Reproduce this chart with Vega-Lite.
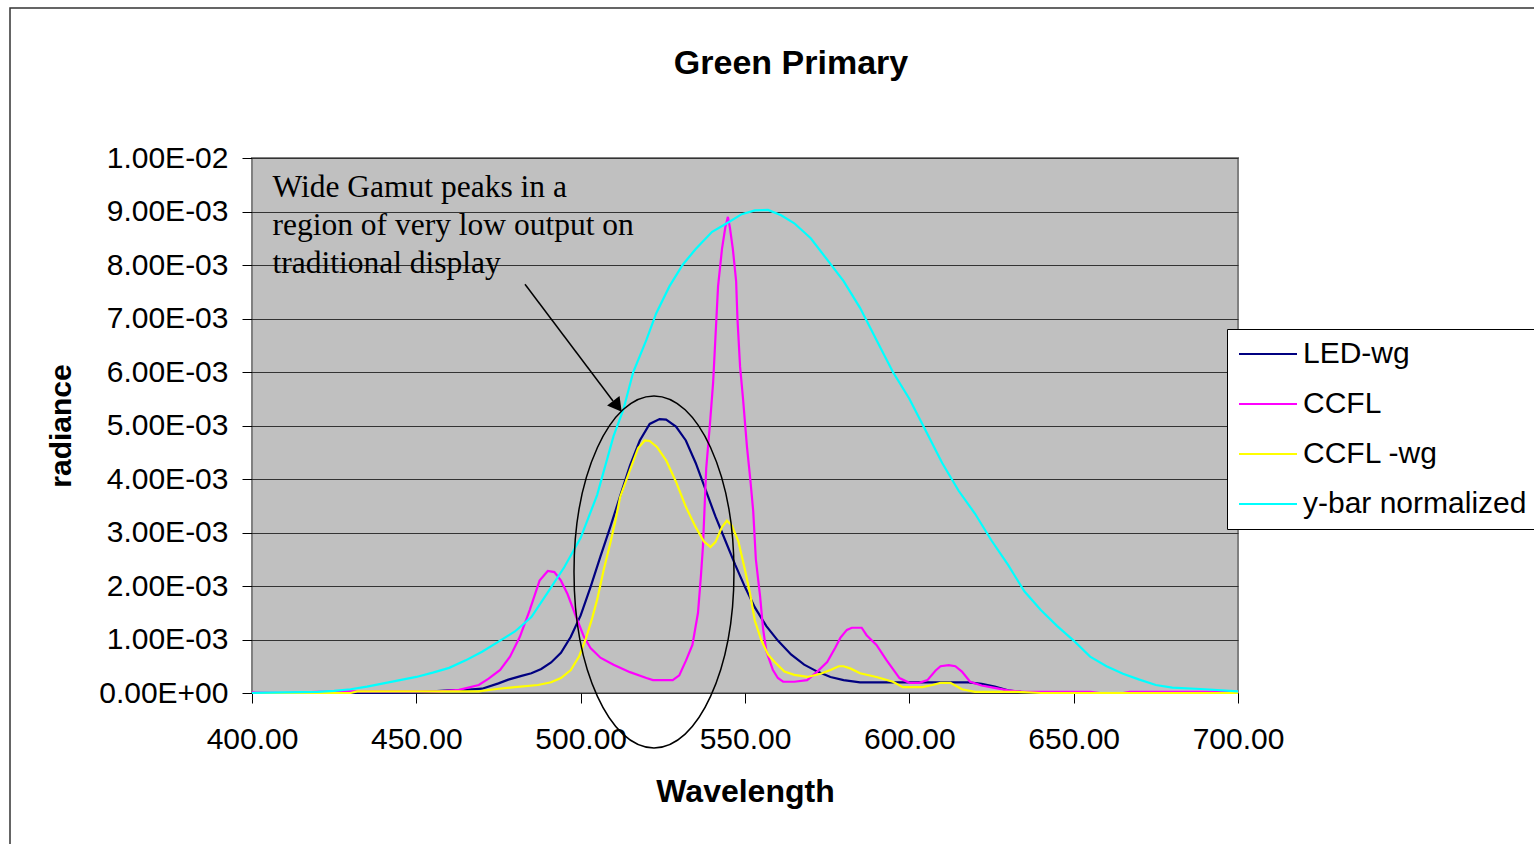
{
  "$schema": "https://vega.github.io/schema/vega-lite/v6.json",
  "width": 986,
  "height": 535,
  "autosize": {"type": "none"},
  "padding": {"left": 252, "top": 158, "right": 296, "bottom": 151},
  "background": "white",
  "title": {"text": "Green Primary", "font": "Liberation Sans", "fontSize": 34, "fontWeight": "bold", "color": "black", "anchor": "middle", "frame": "group", "dx": 46, "baseline": "alphabetic", "offset": -101},
  "config": {
    "view": {"fill": "#C0C0C0", "stroke": "#808080", "strokeWidth": 2},
    "axis": {"labelFont": "Liberation Sans", "titleFont": "Liberation Sans", "labelColor": "black", "titleColor": "black", "tickColor": "black", "domain": false}
  },
  "data": {"values": [
    {"series": "LED-wg", "wavelength": 400, "radiance": 0},
    {"series": "LED-wg", "wavelength": 420, "radiance": 0},
    {"series": "LED-wg", "wavelength": 440, "radiance": 0},
    {"series": "LED-wg", "wavelength": 450, "radiance": 0.00001},
    {"series": "LED-wg", "wavelength": 460, "radiance": 0.00005},
    {"series": "LED-wg", "wavelength": 465, "radiance": 0.00006},
    {"series": "LED-wg", "wavelength": 470, "radiance": 0.00008},
    {"series": "LED-wg", "wavelength": 475, "radiance": 0.00018},
    {"series": "LED-wg", "wavelength": 478, "radiance": 0.00025},
    {"series": "LED-wg", "wavelength": 482, "radiance": 0.00032},
    {"series": "LED-wg", "wavelength": 485, "radiance": 0.00037},
    {"series": "LED-wg", "wavelength": 488, "radiance": 0.00045},
    {"series": "LED-wg", "wavelength": 491, "radiance": 0.00057},
    {"series": "LED-wg", "wavelength": 494, "radiance": 0.00075},
    {"series": "LED-wg", "wavelength": 497, "radiance": 0.00105},
    {"series": "LED-wg", "wavelength": 500, "radiance": 0.00145},
    {"series": "LED-wg", "wavelength": 503, "radiance": 0.00198},
    {"series": "LED-wg", "wavelength": 506, "radiance": 0.00255},
    {"series": "LED-wg", "wavelength": 509, "radiance": 0.0031},
    {"series": "LED-wg", "wavelength": 512, "radiance": 0.00368},
    {"series": "LED-wg", "wavelength": 515, "radiance": 0.00425},
    {"series": "LED-wg", "wavelength": 518, "radiance": 0.00472},
    {"series": "LED-wg", "wavelength": 521, "radiance": 0.00503},
    {"series": "LED-wg", "wavelength": 524, "radiance": 0.00512},
    {"series": "LED-wg", "wavelength": 526, "radiance": 0.00511},
    {"series": "LED-wg", "wavelength": 529, "radiance": 0.00498},
    {"series": "LED-wg", "wavelength": 532, "radiance": 0.00472},
    {"series": "LED-wg", "wavelength": 535, "radiance": 0.0043},
    {"series": "LED-wg", "wavelength": 538, "radiance": 0.0038},
    {"series": "LED-wg", "wavelength": 541, "radiance": 0.0033},
    {"series": "LED-wg", "wavelength": 544, "radiance": 0.00285},
    {"series": "LED-wg", "wavelength": 547, "radiance": 0.0024},
    {"series": "LED-wg", "wavelength": 550, "radiance": 0.00198},
    {"series": "LED-wg", "wavelength": 553, "radiance": 0.0016},
    {"series": "LED-wg", "wavelength": 556.5, "radiance": 0.00125},
    {"series": "LED-wg", "wavelength": 560, "radiance": 0.00098},
    {"series": "LED-wg", "wavelength": 564, "radiance": 0.00072},
    {"series": "LED-wg", "wavelength": 568, "radiance": 0.00053},
    {"series": "LED-wg", "wavelength": 572, "radiance": 0.0004},
    {"series": "LED-wg", "wavelength": 576, "radiance": 0.0003},
    {"series": "LED-wg", "wavelength": 580, "radiance": 0.00024},
    {"series": "LED-wg", "wavelength": 585, "radiance": 0.0002},
    {"series": "LED-wg", "wavelength": 600, "radiance": 0.0002},
    {"series": "LED-wg", "wavelength": 618, "radiance": 0.0002},
    {"series": "LED-wg", "wavelength": 622, "radiance": 0.00017},
    {"series": "LED-wg", "wavelength": 626, "radiance": 0.00012},
    {"series": "LED-wg", "wavelength": 630, "radiance": 0.00005},
    {"series": "LED-wg", "wavelength": 634, "radiance": 0.00002},
    {"series": "LED-wg", "wavelength": 640, "radiance": 0},
    {"series": "LED-wg", "wavelength": 700, "radiance": 0},

    {"series": "CCFL", "wavelength": 400, "radiance": 0.00001},
    {"series": "CCFL", "wavelength": 410, "radiance": 0},
    {"series": "CCFL", "wavelength": 420, "radiance": 0.00002},
    {"series": "CCFL", "wavelength": 430, "radiance": 0.00003},
    {"series": "CCFL", "wavelength": 445, "radiance": 0.00003},
    {"series": "CCFL", "wavelength": 457, "radiance": 0.00003},
    {"series": "CCFL", "wavelength": 463, "radiance": 0.00006},
    {"series": "CCFL", "wavelength": 469, "radiance": 0.00015},
    {"series": "CCFL", "wavelength": 472, "radiance": 0.00027},
    {"series": "CCFL", "wavelength": 475.5, "radiance": 0.00043},
    {"series": "CCFL", "wavelength": 478.5, "radiance": 0.00068},
    {"series": "CCFL", "wavelength": 481.5, "radiance": 0.00105},
    {"series": "CCFL", "wavelength": 484.5, "radiance": 0.00155},
    {"series": "CCFL", "wavelength": 487.5, "radiance": 0.0021},
    {"series": "CCFL", "wavelength": 490, "radiance": 0.00228},
    {"series": "CCFL", "wavelength": 492, "radiance": 0.00226},
    {"series": "CCFL", "wavelength": 494, "radiance": 0.0021},
    {"series": "CCFL", "wavelength": 496, "radiance": 0.00185},
    {"series": "CCFL", "wavelength": 499, "radiance": 0.00136},
    {"series": "CCFL", "wavelength": 501, "radiance": 0.00105},
    {"series": "CCFL", "wavelength": 503, "radiance": 0.00084},
    {"series": "CCFL", "wavelength": 506, "radiance": 0.00066},
    {"series": "CCFL", "wavelength": 510, "radiance": 0.00053},
    {"series": "CCFL", "wavelength": 515, "radiance": 0.00039},
    {"series": "CCFL", "wavelength": 520, "radiance": 0.00028},
    {"series": "CCFL", "wavelength": 522, "radiance": 0.00024},
    {"series": "CCFL", "wavelength": 528, "radiance": 0.00024},
    {"series": "CCFL", "wavelength": 530, "radiance": 0.00033},
    {"series": "CCFL", "wavelength": 532, "radiance": 0.0006},
    {"series": "CCFL", "wavelength": 534, "radiance": 0.0009},
    {"series": "CCFL", "wavelength": 535.7, "radiance": 0.0015},
    {"series": "CCFL", "wavelength": 536.6, "radiance": 0.0022},
    {"series": "CCFL", "wavelength": 537.2, "radiance": 0.00273},
    {"series": "CCFL", "wavelength": 538.2, "radiance": 0.0042},
    {"series": "CCFL", "wavelength": 539.3, "radiance": 0.005},
    {"series": "CCFL", "wavelength": 540.3, "radiance": 0.0058},
    {"series": "CCFL", "wavelength": 541.8, "radiance": 0.0076},
    {"series": "CCFL", "wavelength": 543, "radiance": 0.0083},
    {"series": "CCFL", "wavelength": 544, "radiance": 0.0087},
    {"series": "CCFL", "wavelength": 544.8, "radiance": 0.0089},
    {"series": "CCFL", "wavelength": 545.4, "radiance": 0.0087},
    {"series": "CCFL", "wavelength": 546.3, "radiance": 0.0083},
    {"series": "CCFL", "wavelength": 547.3, "radiance": 0.0077},
    {"series": "CCFL", "wavelength": 547.7, "radiance": 0.007},
    {"series": "CCFL", "wavelength": 548.5, "radiance": 0.0061},
    {"series": "CCFL", "wavelength": 549.4, "radiance": 0.0055},
    {"series": "CCFL", "wavelength": 550.6, "radiance": 0.0046},
    {"series": "CCFL", "wavelength": 551.6, "radiance": 0.004},
    {"series": "CCFL", "wavelength": 552.5, "radiance": 0.0034},
    {"series": "CCFL", "wavelength": 553.3, "radiance": 0.0025},
    {"series": "CCFL", "wavelength": 554.6, "radiance": 0.0018},
    {"series": "CCFL", "wavelength": 555.5, "radiance": 0.0012},
    {"series": "CCFL", "wavelength": 556.5, "radiance": 0.00078},
    {"series": "CCFL", "wavelength": 558.5, "radiance": 0.00043},
    {"series": "CCFL", "wavelength": 560, "radiance": 0.00028},
    {"series": "CCFL", "wavelength": 561.6, "radiance": 0.00021},
    {"series": "CCFL", "wavelength": 565, "radiance": 0.00021},
    {"series": "CCFL", "wavelength": 568.9, "radiance": 0.00024},
    {"series": "CCFL", "wavelength": 572, "radiance": 0.0004},
    {"series": "CCFL", "wavelength": 575, "radiance": 0.00058},
    {"series": "CCFL", "wavelength": 577.5, "radiance": 0.00085},
    {"series": "CCFL", "wavelength": 579, "radiance": 0.00103},
    {"series": "CCFL", "wavelength": 581, "radiance": 0.00118},
    {"series": "CCFL", "wavelength": 582.5, "radiance": 0.00122},
    {"series": "CCFL", "wavelength": 585.5, "radiance": 0.00122},
    {"series": "CCFL", "wavelength": 587, "radiance": 0.00108},
    {"series": "CCFL", "wavelength": 590, "radiance": 0.0009},
    {"series": "CCFL", "wavelength": 593, "radiance": 0.00062},
    {"series": "CCFL", "wavelength": 597, "radiance": 0.00028},
    {"series": "CCFL", "wavelength": 600, "radiance": 0.00019},
    {"series": "CCFL", "wavelength": 603, "radiance": 0.00019},
    {"series": "CCFL", "wavelength": 605.5, "radiance": 0.00024},
    {"series": "CCFL", "wavelength": 608, "radiance": 0.00042},
    {"series": "CCFL", "wavelength": 609.5, "radiance": 0.0005},
    {"series": "CCFL", "wavelength": 612, "radiance": 0.00052},
    {"series": "CCFL", "wavelength": 614, "radiance": 0.0005},
    {"series": "CCFL", "wavelength": 616, "radiance": 0.0004},
    {"series": "CCFL", "wavelength": 618.5, "radiance": 0.00021},
    {"series": "CCFL", "wavelength": 622, "radiance": 0.00014},
    {"series": "CCFL", "wavelength": 625.5, "radiance": 0.0001},
    {"series": "CCFL", "wavelength": 630, "radiance": 0.00005},
    {"series": "CCFL", "wavelength": 635, "radiance": 0.00002},
    {"series": "CCFL", "wavelength": 655, "radiance": 0.00002},
    {"series": "CCFL", "wavelength": 658, "radiance": 0},
    {"series": "CCFL", "wavelength": 665, "radiance": 0},
    {"series": "CCFL", "wavelength": 667, "radiance": 0.00002},
    {"series": "CCFL", "wavelength": 700, "radiance": 0.00002},

    {"series": "CCFL -wg", "wavelength": 400, "radiance": 0},
    {"series": "CCFL -wg", "wavelength": 430, "radiance": 0},
    {"series": "CCFL -wg", "wavelength": 432, "radiance": 0.00003},
    {"series": "CCFL -wg", "wavelength": 469, "radiance": 0.00003},
    {"series": "CCFL -wg", "wavelength": 475, "radiance": 0.00008},
    {"series": "CCFL -wg", "wavelength": 480, "radiance": 0.00011},
    {"series": "CCFL -wg", "wavelength": 487, "radiance": 0.00015},
    {"series": "CCFL -wg", "wavelength": 491, "radiance": 0.0002},
    {"series": "CCFL -wg", "wavelength": 494, "radiance": 0.00028},
    {"series": "CCFL -wg", "wavelength": 497, "radiance": 0.00043},
    {"series": "CCFL -wg", "wavelength": 499.5, "radiance": 0.00068},
    {"series": "CCFL -wg", "wavelength": 501.5, "radiance": 0.001},
    {"series": "CCFL -wg", "wavelength": 503.5, "radiance": 0.0014},
    {"series": "CCFL -wg", "wavelength": 505, "radiance": 0.00174},
    {"series": "CCFL -wg", "wavelength": 507, "radiance": 0.0023},
    {"series": "CCFL -wg", "wavelength": 509, "radiance": 0.0028},
    {"series": "CCFL -wg", "wavelength": 510.5, "radiance": 0.0032},
    {"series": "CCFL -wg", "wavelength": 512, "radiance": 0.00366},
    {"series": "CCFL -wg", "wavelength": 514, "radiance": 0.004},
    {"series": "CCFL -wg", "wavelength": 515.5, "radiance": 0.00425},
    {"series": "CCFL -wg", "wavelength": 517.5, "radiance": 0.00458},
    {"series": "CCFL -wg", "wavelength": 519.5, "radiance": 0.00472},
    {"series": "CCFL -wg", "wavelength": 521, "radiance": 0.00471},
    {"series": "CCFL -wg", "wavelength": 523.2, "radiance": 0.0046},
    {"series": "CCFL -wg", "wavelength": 526, "radiance": 0.00435},
    {"series": "CCFL -wg", "wavelength": 529, "radiance": 0.00395},
    {"series": "CCFL -wg", "wavelength": 532, "radiance": 0.00348},
    {"series": "CCFL -wg", "wavelength": 535, "radiance": 0.0031},
    {"series": "CCFL -wg", "wavelength": 537.5, "radiance": 0.00283},
    {"series": "CCFL -wg", "wavelength": 539.5, "radiance": 0.00273},
    {"series": "CCFL -wg", "wavelength": 541, "radiance": 0.00282},
    {"series": "CCFL -wg", "wavelength": 543, "radiance": 0.0031},
    {"series": "CCFL -wg", "wavelength": 544.5, "radiance": 0.00322},
    {"series": "CCFL -wg", "wavelength": 546, "radiance": 0.00313},
    {"series": "CCFL -wg", "wavelength": 548, "radiance": 0.00283},
    {"series": "CCFL -wg", "wavelength": 550, "radiance": 0.0023},
    {"series": "CCFL -wg", "wavelength": 551.5, "radiance": 0.00187},
    {"series": "CCFL -wg", "wavelength": 553, "radiance": 0.00135},
    {"series": "CCFL -wg", "wavelength": 555, "radiance": 0.00098},
    {"series": "CCFL -wg", "wavelength": 557, "radiance": 0.00072},
    {"series": "CCFL -wg", "wavelength": 559, "radiance": 0.00058},
    {"series": "CCFL -wg", "wavelength": 562, "radiance": 0.0004},
    {"series": "CCFL -wg", "wavelength": 565, "radiance": 0.00034},
    {"series": "CCFL -wg", "wavelength": 569, "radiance": 0.0003},
    {"series": "CCFL -wg", "wavelength": 573, "radiance": 0.00036},
    {"series": "CCFL -wg", "wavelength": 576, "radiance": 0.00043},
    {"series": "CCFL -wg", "wavelength": 578.5, "radiance": 0.0005},
    {"series": "CCFL -wg", "wavelength": 580, "radiance": 0.0005},
    {"series": "CCFL -wg", "wavelength": 582, "radiance": 0.00046},
    {"series": "CCFL -wg", "wavelength": 585, "radiance": 0.00037},
    {"series": "CCFL -wg", "wavelength": 590, "radiance": 0.0003},
    {"series": "CCFL -wg", "wavelength": 595, "radiance": 0.00021},
    {"series": "CCFL -wg", "wavelength": 598, "radiance": 0.00011},
    {"series": "CCFL -wg", "wavelength": 604, "radiance": 0.00011},
    {"series": "CCFL -wg", "wavelength": 607, "radiance": 0.00015},
    {"series": "CCFL -wg", "wavelength": 609.5, "radiance": 0.00019},
    {"series": "CCFL -wg", "wavelength": 612.5, "radiance": 0.00019},
    {"series": "CCFL -wg", "wavelength": 616, "radiance": 0.00007},
    {"series": "CCFL -wg", "wavelength": 620, "radiance": 0.00002},
    {"series": "CCFL -wg", "wavelength": 633, "radiance": 0.00002},
    {"series": "CCFL -wg", "wavelength": 640, "radiance": 0},
    {"series": "CCFL -wg", "wavelength": 700, "radiance": 0},

    {"series": "y-bar normalized", "wavelength": 400, "radiance": 0},
    {"series": "y-bar normalized", "wavelength": 410, "radiance": 0.00001},
    {"series": "y-bar normalized", "wavelength": 420, "radiance": 0.00002},
    {"series": "y-bar normalized", "wavelength": 425, "radiance": 0.00004},
    {"series": "y-bar normalized", "wavelength": 430, "radiance": 0.00007},
    {"series": "y-bar normalized", "wavelength": 435, "radiance": 0.00012},
    {"series": "y-bar normalized", "wavelength": 440, "radiance": 0.00018},
    {"series": "y-bar normalized", "wavelength": 445, "radiance": 0.00024},
    {"series": "y-bar normalized", "wavelength": 450, "radiance": 0.0003},
    {"series": "y-bar normalized", "wavelength": 455, "radiance": 0.00038},
    {"series": "y-bar normalized", "wavelength": 460, "radiance": 0.00047},
    {"series": "y-bar normalized", "wavelength": 465, "radiance": 0.00061},
    {"series": "y-bar normalized", "wavelength": 470, "radiance": 0.00077},
    {"series": "y-bar normalized", "wavelength": 475, "radiance": 0.00096},
    {"series": "y-bar normalized", "wavelength": 480, "radiance": 0.00115},
    {"series": "y-bar normalized", "wavelength": 485, "radiance": 0.00142},
    {"series": "y-bar normalized", "wavelength": 490, "radiance": 0.00188},
    {"series": "y-bar normalized", "wavelength": 495, "radiance": 0.00235},
    {"series": "y-bar normalized", "wavelength": 500, "radiance": 0.0029},
    {"series": "y-bar normalized", "wavelength": 505, "radiance": 0.0037},
    {"series": "y-bar normalized", "wavelength": 510, "radiance": 0.0048},
    {"series": "y-bar normalized", "wavelength": 513, "radiance": 0.0053},
    {"series": "y-bar normalized", "wavelength": 516, "radiance": 0.006},
    {"series": "y-bar normalized", "wavelength": 520, "radiance": 0.0066},
    {"series": "y-bar normalized", "wavelength": 523, "radiance": 0.0071},
    {"series": "y-bar normalized", "wavelength": 527, "radiance": 0.0076},
    {"series": "y-bar normalized", "wavelength": 531, "radiance": 0.008},
    {"series": "y-bar normalized", "wavelength": 535, "radiance": 0.0083},
    {"series": "y-bar normalized", "wavelength": 540, "radiance": 0.00862},
    {"series": "y-bar normalized", "wavelength": 545, "radiance": 0.0088},
    {"series": "y-bar normalized", "wavelength": 549, "radiance": 0.00895},
    {"series": "y-bar normalized", "wavelength": 553, "radiance": 0.00902},
    {"series": "y-bar normalized", "wavelength": 557, "radiance": 0.00903},
    {"series": "y-bar normalized", "wavelength": 561, "radiance": 0.00893},
    {"series": "y-bar normalized", "wavelength": 565, "radiance": 0.00878},
    {"series": "y-bar normalized", "wavelength": 570, "radiance": 0.0085},
    {"series": "y-bar normalized", "wavelength": 575, "radiance": 0.0081},
    {"series": "y-bar normalized", "wavelength": 580, "radiance": 0.0077},
    {"series": "y-bar normalized", "wavelength": 585, "radiance": 0.0072},
    {"series": "y-bar normalized", "wavelength": 590, "radiance": 0.0066},
    {"series": "y-bar normalized", "wavelength": 595, "radiance": 0.006},
    {"series": "y-bar normalized", "wavelength": 600, "radiance": 0.0055},
    {"series": "y-bar normalized", "wavelength": 605, "radiance": 0.0049},
    {"series": "y-bar normalized", "wavelength": 610, "radiance": 0.0043},
    {"series": "y-bar normalized", "wavelength": 615, "radiance": 0.00378},
    {"series": "y-bar normalized", "wavelength": 620, "radiance": 0.00335},
    {"series": "y-bar normalized", "wavelength": 625, "radiance": 0.00285},
    {"series": "y-bar normalized", "wavelength": 630, "radiance": 0.0024},
    {"series": "y-bar normalized", "wavelength": 635, "radiance": 0.0019},
    {"series": "y-bar normalized", "wavelength": 640, "radiance": 0.00155},
    {"series": "y-bar normalized", "wavelength": 645, "radiance": 0.00125},
    {"series": "y-bar normalized", "wavelength": 650, "radiance": 0.00098},
    {"series": "y-bar normalized", "wavelength": 655, "radiance": 0.00068},
    {"series": "y-bar normalized", "wavelength": 660, "radiance": 0.0005},
    {"series": "y-bar normalized", "wavelength": 665, "radiance": 0.00036},
    {"series": "y-bar normalized", "wavelength": 670, "radiance": 0.00025},
    {"series": "y-bar normalized", "wavelength": 675, "radiance": 0.00015},
    {"series": "y-bar normalized", "wavelength": 680, "radiance": 0.0001},
    {"series": "y-bar normalized", "wavelength": 690, "radiance": 0.00007},
    {"series": "y-bar normalized", "wavelength": 700, "radiance": 0.00003}
  ]},
  "layer": [
    {
      "data": {"values": [{}]},
      "mark": {"type": "rect", "fill": "white", "fillOpacity": 0, "stroke": "#333333", "strokeWidth": 1.5},
      "encoding": {
        "x": {"datum": 326.37, "type": "quantitative", "title": "Wavelength", "scale": {"domain": [400, 700], "nice": false, "zero": false}},
        "x2": {"datum": 800},
        "y": {"datum": 0.012804, "type": "quantitative", "title": "radiance", "scale": {"domain": [0, 0.01], "nice": false}},
        "y2": {"datum": -0.005}
      }
    },
    {
      "mark": {"type": "line", "strokeWidth": 2.2},
      "encoding": {
        "x": {"field": "wavelength", "type": "quantitative", "title": "Wavelength",
              "scale": {"domain": [400, 700], "nice": false, "zero": false},
              "axis": {"values": [400, 450, 500, 550, 600, 650, 700], "format": ".2f", "labelFontSize": 30, "tickSize": 10, "labelPadding": 21, "titleFontSize": 32, "titleFontWeight": "bold", "titlePadding": 22, "grid": false, "labelFlush": false, "labelOverlap": false}},
        "y": {"field": "radiance", "type": "quantitative", "title": "radiance",
              "scale": {"domain": [0, 0.01], "nice": false},
              "axis": {"values": [0, 0.001, 0.002, 0.003, 0.004, 0.005, 0.006, 0.007, 0.008, 0.009, 0.01],
                       "labelExpr": "datum.value == 0 ? '0.00E+00' : (datum.value > 0.0095 ? '1.00E-02' : format(datum.value * 1000, '.2f') + 'E-03')",
                       "labelFontSize": 30, "tickSize": 10, "labelPadding": 14, "grid": true, "gridColor": "#333333", "gridWidth": 1, "gridOpacity": 1,
                       "titleFontSize": 30, "titleFontWeight": "bold", "titlePadding": 22, "labelOverlap": false}},
        "color": {"field": "series", "type": "nominal",
                  "scale": {"domain": ["LED-wg", "CCFL", "CCFL -wg", "y-bar normalized"], "range": ["#000080", "#FF00FF", "#FFFF00", "#00FFFF"]},
                  "legend": {"title": null, "orient": "none", "legendX": 975, "legendY": 171, "fillColor": "white", "strokeColor": "black", "padding": 7,
                             "labelFont": "Liberation Sans", "labelFontSize": 30, "labelColor": "black", "labelLimit": 500,
                             "symbolType": "stroke", "symbolSize": 3364, "symbolStrokeWidth": 2, "symbolOffset": 4, "labelOffset": 5,
                             "clipHeight": 36, "rowPadding": 14}}
      }
    },
    {
      "data": {"values": [{}]},
      "mark": {"type": "text", "font": "Liberation Serif", "fontSize": 31.5, "align": "left", "baseline": "alphabetic", "lineHeight": 38.3, "color": "black"},
      "encoding": {
        "x": {"datum": 406.24, "type": "quantitative", "title": "Wavelength", "scale": {"domain": [400, 700], "nice": false, "zero": false}},
        "y": {"datum": 0.009277, "type": "quantitative", "title": "radiance", "scale": {"domain": [0, 0.01], "nice": false}},
        "text": {"value": ["Wide Gamut peaks in a", "region of very low output on", "traditional display"]}
      }
    },
    {
      "data": {"values": [{}]},
      "mark": {"type": "rule", "color": "black", "strokeWidth": 1.5},
      "encoding": {
        "x": {"datum": 483.06, "type": "quantitative", "title": "Wavelength", "scale": {"domain": [400, 700], "nice": false, "zero": false}},
        "x2": {"datum": 509.84},
        "y": {"datum": 0.007639, "type": "quantitative", "title": "radiance", "scale": {"domain": [0, 0.01], "nice": false}},
        "y2": {"datum": 0.005458}
      }
    },
    {
      "data": {"values": [{}]},
      "mark": {"type": "point", "shape": "M0,-1L1.14,1L-1.14,1Z", "filled": true, "color": "black", "size": 190, "angle": 142.4, "opacity": 1, "strokeWidth": 0},
      "encoding": {
        "x": {"datum": 511.21, "type": "quantitative", "title": "Wavelength", "scale": {"domain": [400, 700], "nice": false, "zero": false}},
        "y": {"datum": 0.00536, "type": "quantitative", "title": "radiance", "scale": {"domain": [0, 0.01], "nice": false}}
      }
    },
    {
      "data": {"values": [{}]},
      "mark": {"type": "point", "shape": "M-0.4545,0A0.4545,1,0,1,1,0.4545,0A0.4545,1,0,1,1,-0.4545,0Z", "filled": false, "color": "black", "strokeWidth": 1.5, "size": 123904, "opacity": 1},
      "encoding": {
        "x": {"datum": 522.31, "type": "quantitative", "title": "Wavelength", "scale": {"domain": [400, 700], "nice": false, "zero": false}},
        "y": {"datum": 0.002262, "type": "quantitative", "title": "radiance", "scale": {"domain": [0, 0.01], "nice": false}}
      }
    }
  ]
}
